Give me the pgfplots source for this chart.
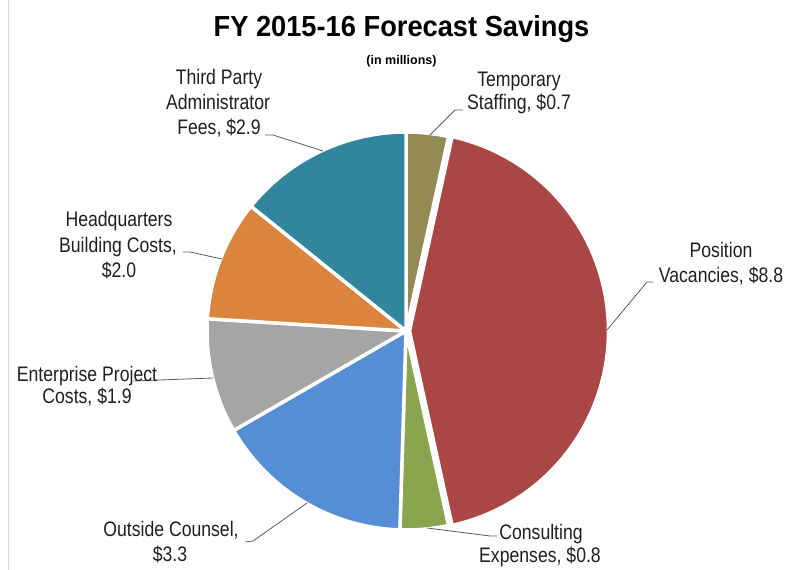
\documentclass[border=0pt]{standalone}
\usepackage{fontspec}
\setmainfont{Liberation Sans}
\usepackage{pgfplots}
\pgfplotsset{compat=1.18}

\definecolor{cTemp}{HTML}{948A54}
\definecolor{cPos}{HTML}{AA4643}
\definecolor{cCons}{HTML}{89A54E}
\definecolor{cOut}{HTML}{558ED5}
\definecolor{cEnt}{HTML}{A5A5A5}
\definecolor{cHQ}{HTML}{DB843D}
\definecolor{cTPA}{HTML}{31859C}
\definecolor{leader}{HTML}{595959}

% savings in $ millions, clockwise from 12 o'clock
\def\vTemp{0.7}
\def\vPos{8.8}
\def\vCons{0.8}
\def\vOut{3.3}
\def\vEnt{1.9}
\def\vHQ{2.0}
\def\vTPA{2.9}
\pgfmathsetmacro\tot{\vTemp+\vPos+\vCons+\vOut+\vEnt+\vHQ+\vTPA}
\pgfmathsetmacro\aA{90}
\pgfmathsetmacro\aB{\aA-360*\vTemp/\tot}
\pgfmathsetmacro\aC{\aB-360*\vPos/\tot}
\pgfmathsetmacro\aD{\aC-360*\vCons/\tot}
\pgfmathsetmacro\aE{\aD-360*\vOut/\tot}
\pgfmathsetmacro\aF{\aE-360*\vEnt/\tot}
\pgfmathsetmacro\aG{\aF-360*\vHQ/\tot}
\pgfmathsetmacro\aH{\aG-360*\vTPA/\tot}
\def\rad{199}

% #1,#2 angles (low, high), #3 colour, #4,#5 centre
\newcommand\slice[5]{%
  \addplot[fill=#3, draw=white, line width=3.5bp, line join=round,
    domain=#1:#2, samples=90, variable=\t]
    ({#4+\rad*cos(\t)}, {#5-\rad*sin(\t)}) -- (axis cs:#4,#5) -- cycle;}
\newcommand\lbl[3]{\node[anchor=base, xscale=0.84, text=black!88,
    font=\fontsize{21bp}{25bp}\selectfont] at (axis cs:#1,#2) {#3};}

\begin{document}
\begin{tikzpicture}
\begin{axis}[
  scale only axis, width=786bp, height=570bp,
  xmin=0, xmax=786, ymin=0, ymax=570, y dir=reverse,
  hide axis, clip=false,
  leaderline/.style={draw=leader, line width=0.8bp, mark=none},
]
\coordinate (SW) at (axis cs:0,570);
\coordinate (NE) at (axis cs:786,0);
\addplot[draw=black!15, line width=1bp] coordinates {(8,0) (8,570)};

\slice{\aB}{\aA}{cTemp}{406}{331}
\slice{\aC}{\aB}{cPos}{409.5}{331}
\slice{\aD}{\aC}{cCons}{406}{331}
\slice{\aE}{\aD}{cOut}{406}{331}
\slice{\aF}{\aE}{cEnt}{406}{331}
\slice{\aG}{\aF}{cHQ}{406}{331}
\slice{\aH}{\aG}{cTPA}{406}{331}

% leader lines
\addplot[leaderline] coordinates {(265,135) (273,135) (323,151)};
\addplot[leaderline] coordinates {(463,110) (455,110) (430,135)};
\addplot[leaderline] coordinates {(653,282) (647,282) (607,330)};
\addplot[leaderline] coordinates {(183,252) (190,252) (222,259)};
\addplot[leaderline] coordinates {(133,381) (213,378)};
\addplot[leaderline] coordinates {(245,542) (253,541) (307,503)};
\addplot[leaderline] coordinates {(497,536) (490,536) (427,528)};

\node[anchor=base, xscale=0.94, font=\fontsize{29bp}{34bp}\selectfont\bfseries]
  at (axis cs:401.5,37) {FY 2015-16 Forecast Savings};
\node[anchor=base, font=\fontsize{12.5bp}{15bp}\selectfont\bfseries]
  at (axis cs:401.5,65) {(in millions)};

\lbl{219}{85}{Third Party}
\lbl{218}{109.5}{Administrator}
\lbl{219}{135}{Fees, \$2.9}
\lbl{519}{86.5}{Temporary}
\lbl{519}{110}{Staffing, \$0.7}
\lbl{721}{258}{Position}
\lbl{721}{283}{Vacancies, \$8.8}
\lbl{119}{227}{Headquarters}
\lbl{118}{253}{Building Costs,}
\lbl{119}{278}{\$2.0}
\lbl{87}{382}{Enterprise Project}
\lbl{87}{404}{Costs, \$1.9}
\lbl{171}{537}{Outside Counsel,}
\lbl{170}{562}{\$3.3}
\lbl{541}{540}{Consulting}
\lbl{540}{563}{Expenses, \$0.8}
\end{axis}
\pgfresetboundingbox
\path (SW) rectangle (NE);
\end{tikzpicture}
\end{document}
